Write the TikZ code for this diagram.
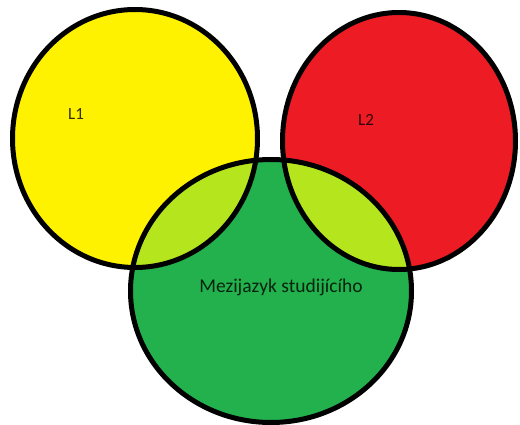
\documentclass[tikz,border=0pt]{standalone}
\usepackage{fontspec}
\setmainfont{Carlito}
\usepackage{tikz}
\definecolor{lYellow}{HTML}{FFF200}
\definecolor{lRed}{HTML}{ED1C24}
\definecolor{lGreen}{HTML}{22B14C}
\definecolor{lLime}{HTML}{B5E61D}

\begin{document}
\begin{tikzpicture}[x=1pt, y=-1pt,
  ring/.style={draw=black, line width=5pt},
  lbl/.style={font=\fontsize{17}{19}\selectfont, text=black, text opacity=0.8, inner sep=0pt}
]
  \useasboundingbox (0,0) rectangle (520,425);
  \clip (0,0) rectangle (520,425);

  % circle centres
  \coordinate (c1) at (135,138.5);
  \coordinate (c2) at (399,141);
  \coordinate (c3) at (271,291);

  % fills
  \fill[lYellow] (c1) ellipse [x radius=122.5pt, y radius=129pt];
  \fill[lRed] (c2) ellipse [x radius=116.5pt, y radius=128.5pt];
  \fill[lGreen] (c3) ellipse [x radius=140.5pt, y radius=131.5pt];

  % overlaps
  \begin{scope}
    \clip (c3) ellipse [x radius=140.5pt, y radius=131.5pt];
    \fill[lLime] (c1) ellipse [x radius=122.5pt, y radius=129pt];
    \fill[lLime] (c2) ellipse [x radius=116.5pt, y radius=128.5pt];
  \end{scope}

  % outlines
  \draw[ring] (c1) ellipse [x radius=122.5pt, y radius=129pt];
  \draw[ring] (c2) ellipse [x radius=116.5pt, y radius=128.5pt];
  \draw[ring] (c3) ellipse [x radius=140.5pt, y radius=131.5pt];

  \node[lbl] (l1) at (76,114) {L1};
  \node[lbl] (l2) at (366,120) {L2};
  \node[lbl, font=\fontsize{19.5}{22}\selectfont] (mezi) at (281,287) {Mezijazyk studijícího};
\end{tikzpicture}
\end{document}
